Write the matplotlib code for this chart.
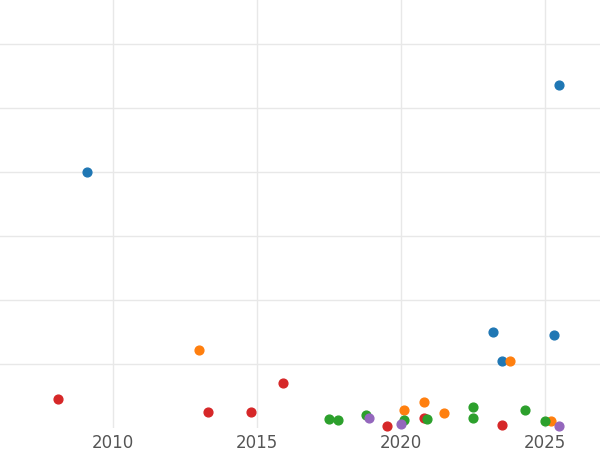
import matplotlib
matplotlib.use("Agg")
import matplotlib.pyplot as plt

blue_x = [2009.1, 2025.5, 2023.2, 2023.5, 2025.3]
blue_y = [4.0, 5.36, 1.5, 1.05, 1.45]
orange_x = [2013.0, 2023.8, 2020.1, 2020.8, 2021.5, 2025.2]
orange_y = [1.22, 1.05, 0.28, 0.41, 0.23, 0.11]
red_x = [2008.1, 2013.3, 2014.8, 2015.9, 2019.5, 2020.8, 2023.5]
red_y = [0.45, 0.25, 0.25, 0.70, 0.03, 0.16, 0.05]
green_x = [2017.5, 2017.8, 2018.8, 2020.1, 2020.9, 2022.5, 2022.5, 2024.3, 2025.0]
green_y = [0.14, 0.13, 0.20, 0.13, 0.14, 0.33, 0.16, 0.28, 0.11]
purple_x = [2018.9, 2020.0, 2025.5]
purple_y = [0.16, 0.06, 0.03]

fig = plt.figure(figsize=(6, 4.5), dpi=100)
ax = fig.add_axes([0, 0.049, 1, 0.951])
for xs, ys, c in [(blue_x, blue_y, '#1f77b4'), (orange_x, orange_y, '#ff7f0e'),
                  (red_x, red_y, '#d62728'), (green_x, green_y, '#2ca02c'),
                  (purple_x, purple_y, '#9467bd')]:
    ax.scatter(xs, ys, s=40, color=c, zorder=3, clip_on=False)

ax.set_xlim(2006.08, 2026.91)
ax.set_ylim(0, 6.69)
ax.set_xticks([2010, 2015, 2020, 2025])
ax.set_yticks([1, 2, 3, 4, 5, 6])
ax.set_yticklabels([])
ax.grid(True, color='#e8e8e8', linewidth=1)
ax.set_axisbelow(True)
for s in ax.spines.values():
    s.set_visible(False)
ax.tick_params(length=0, labelsize=12, labelcolor='#555555', pad=4)
fig.savefig('out.png')
